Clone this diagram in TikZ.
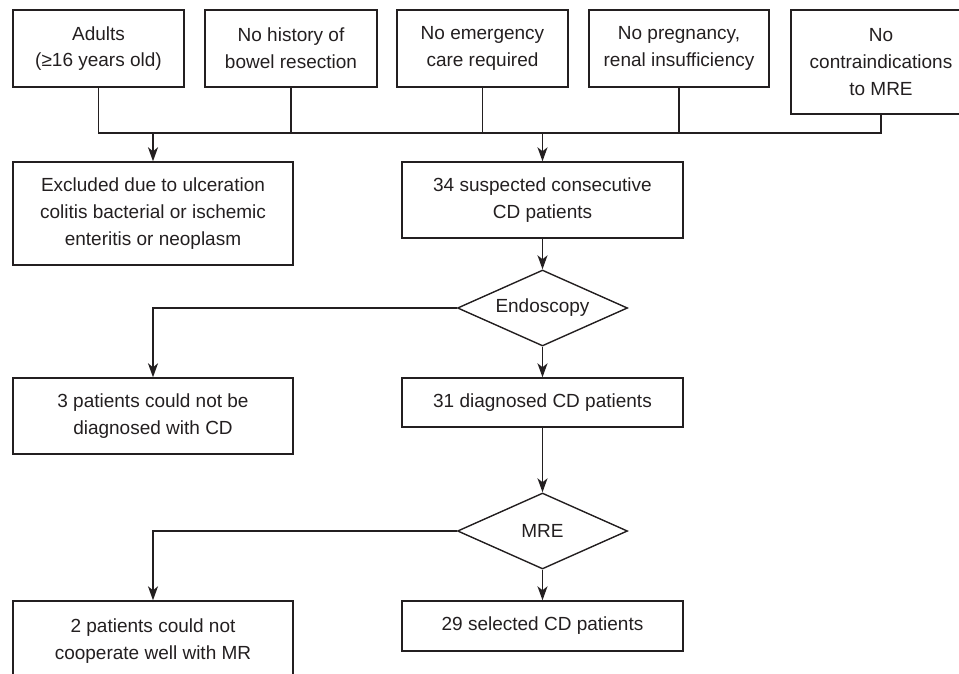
\documentclass[tikz,border=0pt]{standalone}
\usepackage{fontspec}
\setmainfont{Liberation Sans}
\usetikzlibrary{shapes.geometric,arrows.meta}
\definecolor{ink}{HTML}{231F20}
\tikzset{
  box/.style={draw=ink, line width=1.4pt, inner sep=0pt, align=center, text=ink,
    font=\fontsize{19}{26.7}\selectfont},
  dia/.style={diamond, draw=ink, line width=1.4pt, inner sep=0pt, aspect=2.2, text=ink,
    minimum width=170pt, minimum height=76pt, font=\fontsize{19}{26.7}\selectfont},
  conn/.style={draw=ink, line width=1.4pt},
  arr/.style={conn, -{Stealth[length=14pt,width=10pt,inset=4pt]}}
}
\begin{document}
\begin{tikzpicture}[x=1pt,y=-1pt]
\useasboundingbox (0,0) rectangle (959,674);
% top criteria
\node[box, minimum width=171pt, minimum height=77pt] (a1) at (98.5,48.5) {Adults\\(≥16 years old)};
\node[box, minimum width=172pt, minimum height=77pt] (a2) at (291,48.5) {No history of\\bowel resection};
\node[box, minimum width=171pt, minimum height=77pt] (a3) at (482.5,48.5) {No emergency\\care required};
\node[box, minimum width=180pt, minimum height=77pt] (a4) at (679,48.5) {No pregnancy,\\renal insufficiency};
\node[box, minimum width=180pt, minimum height=104pt] (a5) at (881,62) {No\\contraindications\\to MRE};
% second row
\node[box, minimum width=280pt, minimum height=103pt] (ex) at (153,213.5) {Excluded due to ulceration\\colitis bacterial or ischemic\\enteritis or neoplasm};
\node[box, minimum width=281pt, minimum height=76pt] (s34) at (542.5,200) {34 suspected consecutive\\CD patients};
\node[dia] (endo) at (542.5,308) {Endoscopy};
\node[box, minimum width=280pt, minimum height=76pt] (p3) at (153,416) {3 patients could not be\\diagnosed with CD};
\node[box, minimum width=281pt, minimum height=49pt] (d31) at (542.5,402.5) {31 diagnosed CD patients};
\node[dia] (mre) at (542.5,531) {MRE};
\node[box, minimum width=280pt, minimum height=80pt] (p2) at (153,641) {2 patients could not\\cooperate well with MR};
\node[box, minimum width=281pt, minimum height=50pt] (p29) at (542.5,626) {29 selected CD patients};
% bus
\coordinate (busL) at (98.5,133);
\coordinate (busR) at (881,133);
\draw[conn] (a1.south) -- (busL) -- (busR) -- (a5.south);
\draw[conn] (a2.south) -- (a2.south |- busL);
\draw[conn] (a3.south) -- (a3.south |- busL);
\draw[conn] (a4.south) -- (a4.south |- busL);
\draw[arr] (ex.north |- busL) -- (ex.north);
\draw[arr] (s34.north |- busL) -- (s34.north);
% flow
\draw[arr] (s34.south) -- (endo.north);
\draw[arr] (endo.west) -| (p3.north);
\draw[arr] (endo.south) -- (d31.north);
\draw[arr] (d31.south) -- (mre.north);
\draw[arr] (mre.west) -| (p2.north);
\draw[arr] (mre.south) -- (p29.north);
\end{tikzpicture}
\end{document}
